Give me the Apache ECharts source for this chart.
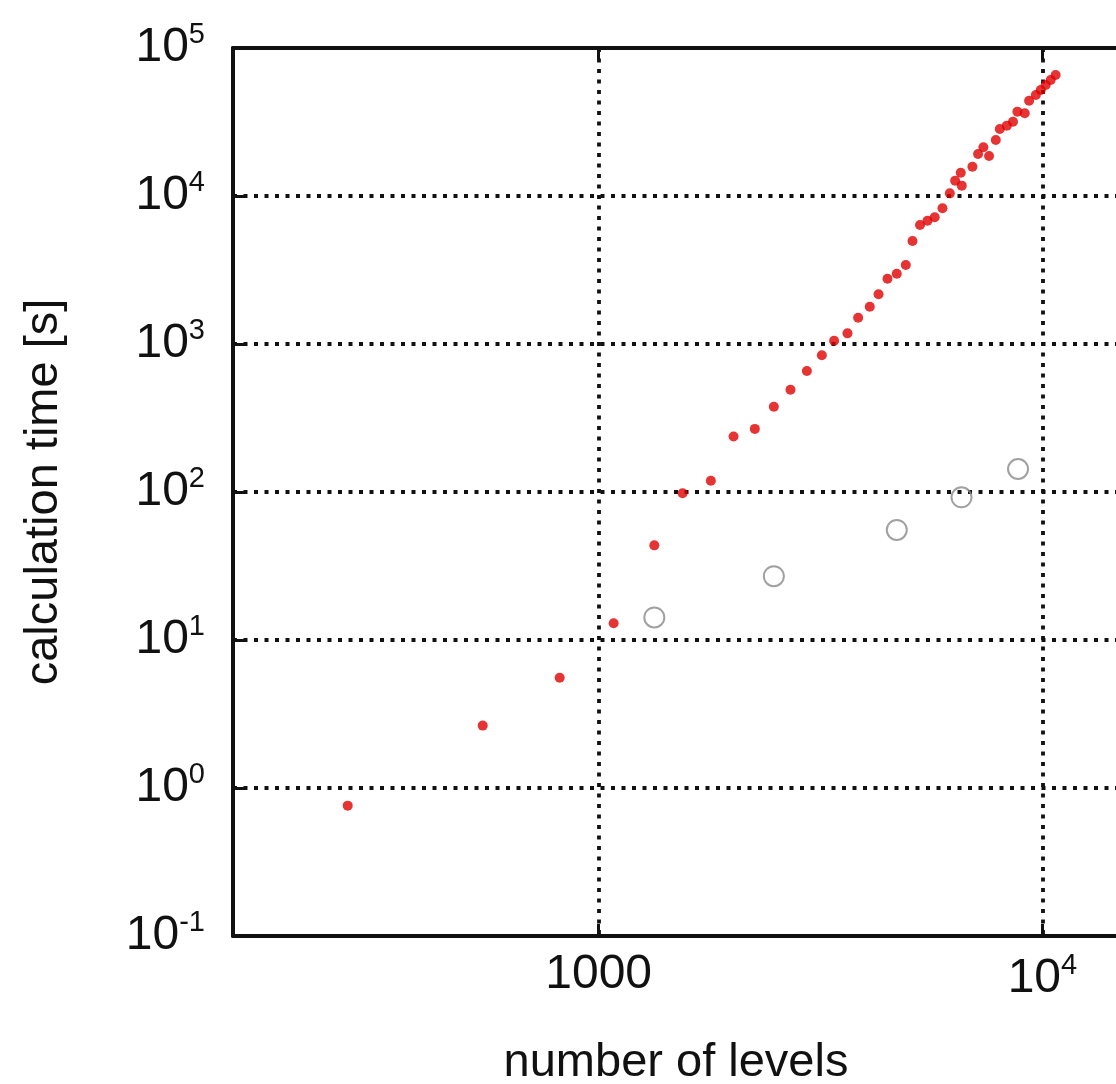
<!DOCTYPE html>
<html>
<head>
<meta charset="utf-8">
<script src="https://cdn.jsdelivr.net/npm/echarts@6/dist/echarts.min.js"></script>
<style>
html, body { margin: 0; padding: 0; background: #fff; }
#chart { width: 1116px; height: 1084px; }
</style>
</head>
<body>
<div id="chart"></div>
<script>
// red dots: number of levels / calculation time
var redLevels = [272, 548, 817, 1081, 1335, 1546, 1790, 2014, 2249, 2482, 2706, 2946,
  3184, 3393, 3637, 3844, 4083, 4273, 4476, 4697, 4922, 5096, 5299, 5508, 5719, 5954,
  6185, 6358, 6581, 6546, 6955, 7161, 7362, 7582, 7852, 8017, 8314, 8584, 8783, 9124,
  9332, 9664, 9913, 10170, 10440, 10710];
var redTimes = [0.76, 2.64, 5.56, 12.97, 43.6, 98, 119, 237, 267, 377, 491, 657,
  840, 1052, 1180, 1506, 1786, 2167, 2761, 2985, 3420, 4966, 6368, 6808, 7180, 8262,
  10420, 12680, 11750, 14350, 15780, 19230, 21330, 18620, 23880, 28390, 29880, 31790, 37150, 36210,
  44040, 48130, 52000, 56300, 60800, 65700];

// open grey circles
var grayLevels = [1335, 2482, 4697, 6571, 8812];
var grayTimes = [14.2, 27.0, 55.4, 92.1, 143];

// tick labels ("a^b" means a with superscript b)
var xTickValues = [1000, 10000];
var xTickLabels = ['1000', '10^4'];
var yTickValues = [0.1, 1, 10, 100, 1000, 10000, 100000];
var yTickLabels = ['10^-1', '10^0', '10^1', '10^2', '10^3', '10^4', '10^5'];

var font = '"Liberation Sans", Arial, Helvetica, sans-serif';
var ink = '#111';

function toRich(s) {
  var p = s.split('^');
  if (p.length === 1) return '{b|' + p[0] + '}';
  return '{b|' + p[0] + '}{s|' + p[1] + '}';
}

function makeFormatter(values, labels) {
  return function (v) {
    for (var i = 0; i < values.length; i++) {
      if (Math.abs(Math.log10(v) - Math.log10(values[i])) < 1e-6) return toRich(labels[i]);
    }
    return '';
  };
}

function pairs(xs, ys) {
  var out = [];
  for (var i = 0; i < xs.length; i++) out.push([xs[i], ys[i]]);
  return out;
}

var richStyle = {
  b: { fontSize: 48, fontFamily: font, color: ink },
  s: { fontSize: 29, fontFamily: font, color: ink, padding: [0, 0, 26, 0] }
};

var gridLine = {
  show: true,
  lineStyle: { color: ink, width: 3.8, type: [4, 6.5] }
};

var chart = echarts.init(document.getElementById('chart'));

// x range runs past the right edge of the page, like the cropped original
var option = {
  animation: false,
  backgroundColor: '#fff',
  grid: {
    left: 233,
    top: 48,
    width: 900,
    height: 888,
    outerBoundsMode: 'none',
    containLabel: false
  },
  xAxis: [
    {
      type: 'log',
      min: 150,
      max: 16000,
      position: 'bottom',
      name: 'number of levels',
      nameLocation: 'middle',
      nameGap: 104,
      nameTextStyle: { fontSize: 47, fontFamily: font, color: ink, padding: [0, 14, 0, 0] },
      axisLine: { show: true, lineStyle: { color: ink, width: 4 } },
      axisTick: { show: true, inside: true, length: 12, lineStyle: { color: ink, width: 3 } },
      minorTick: { show: false },
      axisLabel: {
        margin: 15,
        showMinLabel: false,
        showMaxLabel: false,
        formatter: makeFormatter(xTickValues, xTickLabels),
        rich: richStyle
      },
      splitLine: gridLine
    },
    {
      type: 'log',
      min: 150,
      max: 16000,
      position: 'top',
      axisLine: { show: true, lineStyle: { color: ink, width: 4 } },
      axisTick: { show: true, inside: true, length: 12, lineStyle: { color: ink, width: 3 } },
      axisLabel: { show: false },
      splitLine: { show: false }
    }
  ],
  yAxis: {
    type: 'log',
    min: 0.1,
    max: 100000,
    name: 'calculation time [s]',
    nameLocation: 'middle',
    nameGap: 165,
    nameTextStyle: { fontSize: 47, fontFamily: font, color: ink },
    axisLine: { show: true, lineStyle: { color: ink, width: 4 } },
    axisTick: { show: true, inside: true, length: 12, lineStyle: { color: ink, width: 3 } },
    axisLabel: {
      margin: 28,
      formatter: makeFormatter(yTickValues, yTickLabels),
      rich: richStyle
    },
    splitLine: gridLine
  },
  series: [
    {
      name: 'open',
      type: 'scatter',
      xAxisIndex: 0,
      symbol: 'circle',
      symbolSize: 20,
      itemStyle: { color: 'transparent', borderColor: '#8a8a8a', borderWidth: 2 },
      data: pairs(grayLevels, grayTimes)
    },
    {
      name: 'filled',
      type: 'scatter',
      xAxisIndex: 0,
      symbol: 'circle',
      symbolSize: 10,
      itemStyle: { color: '#e00000' },
      data: pairs(redLevels, redTimes)
    }
  ]
};

chart.setOption(option);
</script>
</body>
</html>
